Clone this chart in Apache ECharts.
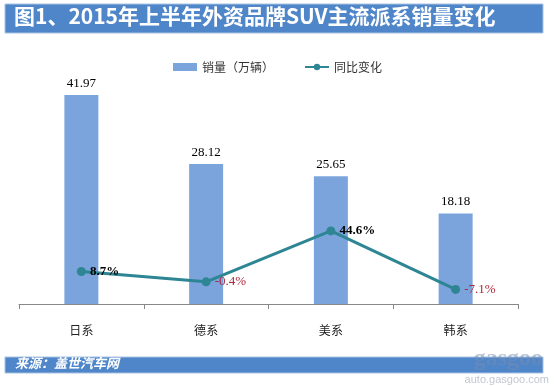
<!DOCTYPE html>
<html><head><meta charset="utf-8">
<script src="https://cdn.jsdelivr.net/npm/echarts@6/dist/echarts.min.js"></script>
<style>html,body{margin:0;padding:0;background:#fff}#c{width:555px;height:386px}</style>
</head><body><div id="c"></div>
<script>
var categories = ['日系', '德系', '美系', '韩系'];
var salesValues = [41.97, 28.12, 25.65, 18.18];
var yoyValues = [8.7, -0.4, 44.6, -7.1];
var yoyLabels = ['8.7%', '-0.4%', '44.6%', '-7.1%'];
var titleText = '图1、2015年上半年外资品牌SUV主流派系销量变化';
var sourceText = '来源：盖世汽车网';

var chart = echarts.init(document.getElementById('c'), null, {renderer: 'canvas'});
var lineData = yoyValues.map(function (v, i) {
  var neg = v < 0;
  return {value: v, label: {
    formatter: yoyLabels[i],
    color: neg ? '#b0263a' : '#000',
    fontWeight: neg ? 'normal' : 'bold'
  }};
});
chart.setOption({
  animation: false,
  graphic: [
    {type: 'rect', shape: {x: 5, y: 4, width: 538, height: 29}, style: {fill: '#4f86c9', stroke: '#a9c2e2', lineWidth: 1}},
    {type: 'text', left: 14, top: 6, style: {text: titleText, fill: '#fff', font: 'bold 21px "Noto Sans CJK SC", sans-serif'}},
    {type: 'rect', shape: {x: 5, y: 357, width: 538, height: 16}, style: {fill: '#4f86c9', stroke: '#a9c2e2', lineWidth: 1}},
    {type: 'text', left: 15, top: 357, style: {text: sourceText, fill: '#fff', font: 'italic bold 13px "Noto Sans CJK SC", sans-serif'}},
    {type: 'text', right: 12, top: 347, style: {text: 'gasgoo', fill: 'rgba(120,140,175,0.5)', font: 'bold 24px "Liberation Serif", serif'}},
    {type: 'text', right: 6, top: 374, style: {text: 'auto.gasgoo.com', fill: 'rgba(150,160,180,0.6)', font: '11px "Liberation Sans", sans-serif'}}
  ],
  legend: {
    top: 56, left: 'center', itemGap: 30, itemWidth: 24, itemHeight: 8,
    textStyle: {fontFamily: '"Noto Sans CJK SC", sans-serif', fontSize: 12, color: '#333'},
    data: [{name: '销量（万辆）', icon: 'rect'}, {name: '同比变化'}]
  },
  grid: {left: 19, right: 37, top: 55, bottom: 82},
  xAxis: {
    type: 'category', data: categories,
    axisLine: {lineStyle: {color: '#888'}},
    axisTick: {show: true, length: 5, lineStyle: {color: '#888'}},
    axisLabel: {color: '#222', fontSize: 12, margin: 20, fontFamily: '"Noto Sans CJK SC", sans-serif'}
  },
  yAxis: [
    {type: 'value', min: 0, max: 50, show: false, splitLine: {show: false}},
    {type: 'value', min: -20, max: 200, show: false, splitLine: {show: false}}
  ],
  series: [
    {
      name: '销量（万辆）', type: 'bar', data: salesValues, barWidth: 34,
      itemStyle: {color: '#7ba4dc'},
      label: {show: true, position: 'top', distance: 5, color: '#000', fontSize: 13,
        fontFamily: '"Liberation Serif", serif', formatter: function (p) { return p.value.toFixed(2); }}
    },
    {
      name: '同比变化', type: 'line', yAxisIndex: 1, data: lineData,
      symbol: 'circle', symbolSize: 9,
      lineStyle: {color: '#2e8593', width: 3}, itemStyle: {color: '#2e8593'},
      label: {show: true, position: 'right', distance: 4, fontSize: 13, fontFamily: '"Liberation Serif", serif'}
    }
  ]
});
</script></body></html>
